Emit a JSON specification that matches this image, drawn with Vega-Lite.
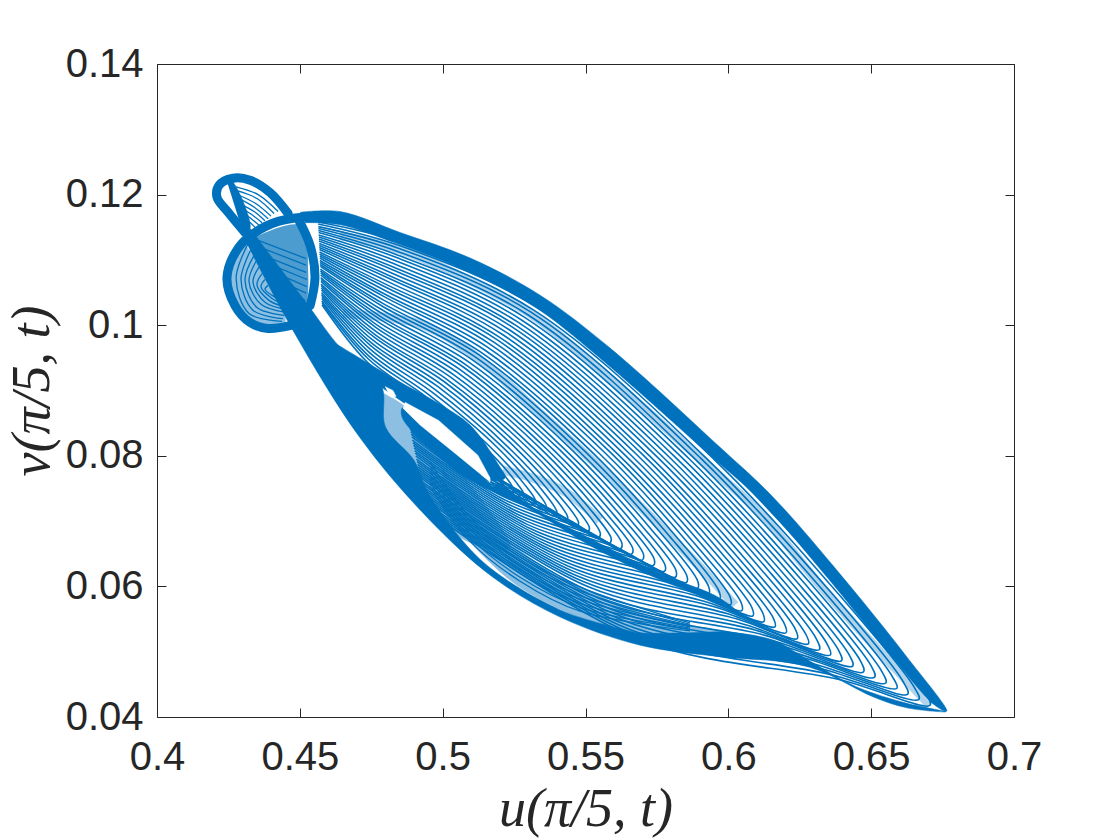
{"$schema":"https://vega.github.io/schema/vega-lite/v6.json","width":857,"height":653,"autosize":"none","padding":{"left":157,"top":64,"right":106,"bottom":123},"background":"white",
"config":{"view":{"stroke":null},"axis":{"grid":false,"domainColor":"#262626","tickColor":"#262626","labelColor":"#262626","titleColor":"#262626","labelFont":"Liberation Sans","labelFontSize":40,"titleFont":"Liberation Serif","titleFontStyle":"italic","titleFontWeight":"normal","titleFontSize":54,"domainWidth":1,"tickWidth":1}},
"datasets":{"fam":[
{"c":0,"x":0.4564,"y":0.1158},{"c":0,"x":0.4851,"y":0.1127},{"c":0,"x":0.5341,"y":0.1031},{"c":0,"x":0.5971,"y":0.0794},{"c":0,"x":0.6426,"y":0.0579},{"c":0,"x":0.6688,"y":0.0438},{"c":0,"x":0.6706,"y":0.0418},{"c":0,"x":0.6391,"y":0.0457},{"c":0,"x":0.5691,"y":0.0518},{"c":0,"x":0.4945,"y":0.0717},
{"c":1,"x":0.4564,"y":0.1155},{"c":1,"x":0.4848,"y":0.1122},{"c":1,"x":0.5330,"y":0.1027},{"c":1,"x":0.5949,"y":0.0795},{"c":1,"x":0.6394,"y":0.0584},{"c":1,"x":0.6650,"y":0.0446},{"c":1,"x":0.6667,"y":0.0427},{"c":1,"x":0.6358,"y":0.0465},{"c":1,"x":0.5673,"y":0.0526},{"c":1,"x":0.4943,"y":0.0721},
{"c":2,"x":0.4565,"y":0.1151},{"c":2,"x":0.4845,"y":0.1118},{"c":2,"x":0.5319,"y":0.1023},{"c":2,"x":0.5926,"y":0.0795},{"c":2,"x":0.6363,"y":0.0589},{"c":2,"x":0.6612,"y":0.0454},{"c":2,"x":0.6628,"y":0.0435},{"c":2,"x":0.6325,"y":0.0474},{"c":2,"x":0.5655,"y":0.0534},{"c":2,"x":0.4941,"y":0.0725},
{"c":3,"x":0.4565,"y":0.1148},{"c":3,"x":0.4842,"y":0.1113},{"c":3,"x":0.5309,"y":0.1020},{"c":3,"x":0.5904,"y":0.0796},{"c":3,"x":0.6331,"y":0.0594},{"c":3,"x":0.6574,"y":0.0462},{"c":3,"x":0.6590,"y":0.0444},{"c":3,"x":0.6293,"y":0.0482},{"c":3,"x":0.5637,"y":0.0542},{"c":3,"x":0.4939,"y":0.0729},
{"c":4,"x":0.4565,"y":0.1145},{"c":4,"x":0.4839,"y":0.1108},{"c":4,"x":0.5298,"y":0.1016},{"c":4,"x":0.5881,"y":0.0796},{"c":4,"x":0.6299,"y":0.0599},{"c":4,"x":0.6537,"y":0.0470},{"c":4,"x":0.6551,"y":0.0452},{"c":4,"x":0.6260,"y":0.0491},{"c":4,"x":0.5619,"y":0.0550},{"c":4,"x":0.4937,"y":0.0734},
{"c":5,"x":0.4566,"y":0.1142},{"c":5,"x":0.4836,"y":0.1104},{"c":5,"x":0.5287,"y":0.1012},{"c":5,"x":0.5859,"y":0.0797},{"c":5,"x":0.6268,"y":0.0604},{"c":5,"x":0.6499,"y":0.0479},{"c":5,"x":0.6512,"y":0.0461},{"c":5,"x":0.6227,"y":0.0499},{"c":5,"x":0.5601,"y":0.0558},{"c":5,"x":0.4935,"y":0.0738},
{"c":6,"x":0.4566,"y":0.1138},{"c":6,"x":0.4833,"y":0.1099},{"c":6,"x":0.5276,"y":0.1008},{"c":6,"x":0.5836,"y":0.0798},{"c":6,"x":0.6236,"y":0.0609},{"c":6,"x":0.6461,"y":0.0487},{"c":6,"x":0.6473,"y":0.0469},{"c":6,"x":0.6194,"y":0.0508},{"c":6,"x":0.5583,"y":0.0566},{"c":6,"x":0.4933,"y":0.0742},
{"c":7,"x":0.4567,"y":0.1135},{"c":7,"x":0.4830,"y":0.1094},{"c":7,"x":0.5266,"y":0.1004},{"c":7,"x":0.5814,"y":0.0798},{"c":7,"x":0.6204,"y":0.0614},{"c":7,"x":0.6423,"y":0.0495},{"c":7,"x":0.6435,"y":0.0478},{"c":7,"x":0.6162,"y":0.0516},{"c":7,"x":0.5565,"y":0.0574},{"c":7,"x":0.4931,"y":0.0746},
{"c":8,"x":0.4567,"y":0.1132},{"c":8,"x":0.4827,"y":0.1089},{"c":8,"x":0.5255,"y":0.1000},{"c":8,"x":0.5791,"y":0.0799},{"c":8,"x":0.6172,"y":0.0619},{"c":8,"x":0.6385,"y":0.0503},{"c":8,"x":0.6396,"y":0.0486},{"c":8,"x":0.6129,"y":0.0525},{"c":8,"x":0.5547,"y":0.0582},{"c":8,"x":0.4929,"y":0.0750},
{"c":9,"x":0.4567,"y":0.1129},{"c":9,"x":0.4824,"y":0.1085},{"c":9,"x":0.5244,"y":0.0997},{"c":9,"x":0.5769,"y":0.0799},{"c":9,"x":0.6141,"y":0.0624},{"c":9,"x":0.6347,"y":0.0511},{"c":9,"x":0.6357,"y":0.0495},{"c":9,"x":0.6096,"y":0.0533},{"c":9,"x":0.5529,"y":0.0590},{"c":9,"x":0.4927,"y":0.0754},
{"c":10,"x":0.4568,"y":0.1125},{"c":10,"x":0.4821,"y":0.1080},{"c":10,"x":0.5233,"y":0.0993},{"c":10,"x":0.5747,"y":0.0800},{"c":10,"x":0.6109,"y":0.0629},{"c":10,"x":0.6309,"y":0.0519},{"c":10,"x":0.6318,"y":0.0503},{"c":10,"x":0.6063,"y":0.0541},{"c":10,"x":0.5512,"y":0.0599},{"c":10,"x":0.4925,"y":0.0758},
{"c":11,"x":0.4568,"y":0.1122},{"c":11,"x":0.4818,"y":0.1075},{"c":11,"x":0.5223,"y":0.0989},{"c":11,"x":0.5724,"y":0.0800},{"c":11,"x":0.6077,"y":0.0633},{"c":11,"x":0.6271,"y":0.0527},{"c":11,"x":0.6280,"y":0.0512},{"c":11,"x":0.6031,"y":0.0550},{"c":11,"x":0.5494,"y":0.0607},{"c":11,"x":0.4923,"y":0.0762},
{"c":12,"x":0.4568,"y":0.1119},{"c":12,"x":0.4815,"y":0.1071},{"c":12,"x":0.5212,"y":0.0985},{"c":12,"x":0.5702,"y":0.0801},{"c":12,"x":0.6046,"y":0.0638},{"c":12,"x":0.6234,"y":0.0535},{"c":12,"x":0.6241,"y":0.0520},{"c":12,"x":0.5998,"y":0.0558},{"c":12,"x":0.5476,"y":0.0615},{"c":12,"x":0.4921,"y":0.0767},
{"c":13,"x":0.4569,"y":0.1116},{"c":13,"x":0.4812,"y":0.1066},{"c":13,"x":0.5201,"y":0.0981},{"c":13,"x":0.5679,"y":0.0802},{"c":13,"x":0.6014,"y":0.0643},{"c":13,"x":0.6196,"y":0.0543},{"c":13,"x":0.6202,"y":0.0529},{"c":13,"x":0.5965,"y":0.0567},{"c":13,"x":0.5458,"y":0.0623},{"c":13,"x":0.4919,"y":0.0771},
{"c":14,"x":0.4569,"y":0.1112},{"c":14,"x":0.4809,"y":0.1061},{"c":14,"x":0.5190,"y":0.0978},{"c":14,"x":0.5657,"y":0.0802},{"c":14,"x":0.5982,"y":0.0648},{"c":14,"x":0.6158,"y":0.0551},{"c":14,"x":0.6163,"y":0.0538},{"c":14,"x":0.5932,"y":0.0575},{"c":14,"x":0.5440,"y":0.0631},{"c":14,"x":0.4917,"y":0.0775},
{"c":15,"x":0.4569,"y":0.1109},{"c":15,"x":0.4806,"y":0.1057},{"c":15,"x":0.5179,"y":0.0974},{"c":15,"x":0.5634,"y":0.0803},{"c":15,"x":0.5951,"y":0.0653},{"c":15,"x":0.6120,"y":0.0560},{"c":15,"x":0.6124,"y":0.0546},{"c":15,"x":0.5899,"y":0.0584},{"c":15,"x":0.5422,"y":0.0639},{"c":15,"x":0.4915,"y":0.0779},
{"c":16,"x":0.4570,"y":0.1106},{"c":16,"x":0.4803,"y":0.1052},{"c":16,"x":0.5169,"y":0.0970},{"c":16,"x":0.5612,"y":0.0803},{"c":16,"x":0.5919,"y":0.0658},{"c":16,"x":0.6082,"y":0.0568},{"c":16,"x":0.6086,"y":0.0555},{"c":16,"x":0.5867,"y":0.0592},{"c":16,"x":0.5404,"y":0.0647},{"c":16,"x":0.4913,"y":0.0783},
{"c":17,"x":0.4570,"y":0.1103},{"c":17,"x":0.4800,"y":0.1047},{"c":17,"x":0.5158,"y":0.0966},{"c":17,"x":0.5590,"y":0.0804},{"c":17,"x":0.5887,"y":0.0663},{"c":17,"x":0.6044,"y":0.0576},{"c":17,"x":0.6047,"y":0.0563},{"c":17,"x":0.5834,"y":0.0600},{"c":17,"x":0.5386,"y":0.0655},{"c":17,"x":0.4912,"y":0.0787},
{"c":18,"x":0.4570,"y":0.1099},{"c":18,"x":0.4798,"y":0.1043},{"c":18,"x":0.5147,"y":0.0962},{"c":18,"x":0.5567,"y":0.0805},{"c":18,"x":0.5856,"y":0.0668},{"c":18,"x":0.6006,"y":0.0584},{"c":18,"x":0.6008,"y":0.0572},{"c":18,"x":0.5801,"y":0.0609},{"c":18,"x":0.5368,"y":0.0663},{"c":18,"x":0.4910,"y":0.0791},
{"c":19,"x":0.4571,"y":0.1096},{"c":19,"x":0.4795,"y":0.1038},{"c":19,"x":0.5136,"y":0.0958},{"c":19,"x":0.5545,"y":0.0805},{"c":19,"x":0.5824,"y":0.0673},{"c":19,"x":0.5968,"y":0.0592},{"c":19,"x":0.5969,"y":0.0580},{"c":19,"x":0.5768,"y":0.0617},{"c":19,"x":0.5350,"y":0.0671},{"c":19,"x":0.4908,"y":0.0795},
{"c":20,"x":0.4571,"y":0.1093},{"c":20,"x":0.4792,"y":0.1033},{"c":20,"x":0.5126,"y":0.0955},{"c":20,"x":0.5522,"y":0.0806},{"c":20,"x":0.5792,"y":0.0678},{"c":20,"x":0.5931,"y":0.0600},{"c":20,"x":0.5931,"y":0.0589},{"c":20,"x":0.5736,"y":0.0626},{"c":20,"x":0.5332,"y":0.0679},{"c":20,"x":0.4906,"y":0.0800},
{"c":21,"x":0.4572,"y":0.1090},{"c":21,"x":0.4789,"y":0.1029},{"c":21,"x":0.5115,"y":0.0951},{"c":21,"x":0.5500,"y":0.0806},{"c":21,"x":0.5761,"y":0.0683},{"c":21,"x":0.5893,"y":0.0608},{"c":21,"x":0.5892,"y":0.0597},{"c":21,"x":0.5703,"y":0.0634},{"c":21,"x":0.5314,"y":0.0687},{"c":21,"x":0.4904,"y":0.0804},
{"c":22,"x":0.4572,"y":0.1086},{"c":22,"x":0.4786,"y":0.1024},{"c":22,"x":0.5104,"y":0.0947},{"c":22,"x":0.5477,"y":0.0807},{"c":22,"x":0.5729,"y":0.0688},{"c":22,"x":0.5855,"y":0.0616},{"c":22,"x":0.5853,"y":0.0606},{"c":22,"x":0.5670,"y":0.0643},{"c":22,"x":0.5296,"y":0.0695},{"c":22,"x":0.4902,"y":0.0808},
{"c":23,"x":0.4572,"y":0.1083},{"c":23,"x":0.4783,"y":0.1019},{"c":23,"x":0.5093,"y":0.0943},{"c":23,"x":0.5455,"y":0.0808},{"c":23,"x":0.5697,"y":0.0693},{"c":23,"x":0.5817,"y":0.0624},{"c":23,"x":0.5814,"y":0.0614},{"c":23,"x":0.5637,"y":0.0651},{"c":23,"x":0.5278,"y":0.0703},{"c":23,"x":0.4900,"y":0.0812},
{"c":24,"x":0.4573,"y":0.1080},{"c":24,"x":0.4780,"y":0.1014},{"c":24,"x":0.5083,"y":0.0939},{"c":24,"x":0.5432,"y":0.0808},{"c":24,"x":0.5665,"y":0.0698},{"c":24,"x":0.5779,"y":0.0632},{"c":24,"x":0.5776,"y":0.0623},{"c":24,"x":0.5605,"y":0.0660},{"c":24,"x":0.5260,"y":0.0711},{"c":24,"x":0.4898,"y":0.0816},
{"c":25,"x":0.4573,"y":0.1077},{"c":25,"x":0.4777,"y":0.1010},{"c":25,"x":0.5072,"y":0.0936},{"c":25,"x":0.5410,"y":0.0809},{"c":25,"x":0.5634,"y":0.0703},{"c":25,"x":0.5741,"y":0.0641},{"c":25,"x":0.5737,"y":0.0632},{"c":25,"x":0.5572,"y":0.0668},{"c":25,"x":0.5242,"y":0.0719},{"c":25,"x":0.4896,"y":0.0820},
{"c":26,"x":0.4573,"y":0.1073},{"c":26,"x":0.4774,"y":0.1005},{"c":26,"x":0.5061,"y":0.0932},{"c":26,"x":0.5388,"y":0.0809},{"c":26,"x":0.5602,"y":0.0708},{"c":26,"x":0.5703,"y":0.0649},{"c":26,"x":0.5698,"y":0.0640},{"c":26,"x":0.5539,"y":0.0676},{"c":26,"x":0.5224,"y":0.0727},{"c":26,"x":0.4894,"y":0.0824},
{"c":27,"x":0.4574,"y":0.1070},{"c":27,"x":0.4771,"y":0.1000},{"c":27,"x":0.5050,"y":0.0928},{"c":27,"x":0.5365,"y":0.0810},{"c":27,"x":0.5570,"y":0.0713},{"c":27,"x":0.5666,"y":0.0657},{"c":27,"x":0.5659,"y":0.0649},{"c":27,"x":0.5506,"y":0.0685},{"c":27,"x":0.5206,"y":0.0735},{"c":27,"x":0.4892,"y":0.0829},
{"c":28,"x":0.4574,"y":0.1067},{"c":28,"x":0.4768,"y":0.0996},{"c":28,"x":0.5039,"y":0.0924},{"c":28,"x":0.5343,"y":0.0811},{"c":28,"x":0.5539,"y":0.0718},{"c":28,"x":0.5628,"y":0.0665},{"c":28,"x":0.5620,"y":0.0657},{"c":28,"x":0.5473,"y":0.0693},{"c":28,"x":0.5188,"y":0.0743},{"c":28,"x":0.4890,"y":0.0833},
{"c":29,"x":0.4574,"y":0.1063},{"c":29,"x":0.4765,"y":0.0991},{"c":29,"x":0.5029,"y":0.0920},{"c":29,"x":0.5320,"y":0.0811},{"c":29,"x":0.5507,"y":0.0723},{"c":29,"x":0.5590,"y":0.0673},{"c":29,"x":0.5582,"y":0.0666},{"c":29,"x":0.5441,"y":0.0702},{"c":29,"x":0.5170,"y":0.0751},{"c":29,"x":0.4888,"y":0.0837},
{"c":30,"x":0.4575,"y":0.1060},{"c":30,"x":0.4762,"y":0.0986},{"c":30,"x":0.5018,"y":0.0916},{"c":30,"x":0.5298,"y":0.0812},{"c":30,"x":0.5475,"y":0.0728},{"c":30,"x":0.5552,"y":0.0681},{"c":30,"x":0.5543,"y":0.0674},{"c":30,"x":0.5408,"y":0.0710},{"c":30,"x":0.5153,"y":0.0760},{"c":30,"x":0.4886,"y":0.0841},
{"c":31,"x":0.4575,"y":0.1057},{"c":31,"x":0.4759,"y":0.0982},{"c":31,"x":0.5007,"y":0.0913},{"c":31,"x":0.5275,"y":0.0812},{"c":31,"x":0.5444,"y":0.0732},{"c":31,"x":0.5514,"y":0.0689},{"c":31,"x":0.5504,"y":0.0683},{"c":31,"x":0.5375,"y":0.0719},{"c":31,"x":0.5135,"y":0.0768},{"c":31,"x":0.4884,"y":0.0845},
{"c":32,"x":0.4576,"y":0.1054},{"c":32,"x":0.4756,"y":0.0977},{"c":32,"x":0.4996,"y":0.0909},{"c":32,"x":0.5253,"y":0.0813},{"c":32,"x":0.5412,"y":0.0737},{"c":32,"x":0.5476,"y":0.0697},{"c":32,"x":0.5465,"y":0.0691},{"c":32,"x":0.5342,"y":0.0727},{"c":32,"x":0.5117,"y":0.0776},{"c":32,"x":0.4882,"y":0.0849},
{"c":33,"x":0.4576,"y":0.1050},{"c":33,"x":0.4753,"y":0.0972},{"c":33,"x":0.4986,"y":0.0905},{"c":33,"x":0.5230,"y":0.0813},{"c":33,"x":0.5380,"y":0.0742},{"c":33,"x":0.5438,"y":0.0705},{"c":33,"x":0.5427,"y":0.0700},{"c":33,"x":0.5310,"y":0.0736},{"c":33,"x":0.5099,"y":0.0784},{"c":33,"x":0.4880,"y":0.0853},
{"c":34,"x":0.4576,"y":0.1047},{"c":34,"x":0.4750,"y":0.0968},{"c":34,"x":0.4975,"y":0.0901},{"c":34,"x":0.5208,"y":0.0814},{"c":34,"x":0.5349,"y":0.0747},{"c":34,"x":0.5400,"y":0.0713},{"c":34,"x":0.5388,"y":0.0708},{"c":34,"x":0.5277,"y":0.0744},{"c":34,"x":0.5081,"y":0.0792},{"c":34,"x":0.4878,"y":0.0857},
{"c":35,"x":0.4577,"y":0.1044},{"c":35,"x":0.4747,"y":0.0963},{"c":35,"x":0.4964,"y":0.0897},{"c":35,"x":0.5186,"y":0.0815},{"c":35,"x":0.5317,"y":0.0752},{"c":35,"x":0.5363,"y":0.0722},{"c":35,"x":0.5349,"y":0.0717},{"c":35,"x":0.5244,"y":0.0752},{"c":35,"x":0.5063,"y":0.0800},{"c":35,"x":0.4876,"y":0.0862},
{"c":36,"x":0.4577,"y":0.1041},{"c":36,"x":0.4744,"y":0.0958},{"c":36,"x":0.4953,"y":0.0893},{"c":36,"x":0.5163,"y":0.0815},{"c":36,"x":0.5285,"y":0.0757},{"c":36,"x":0.5325,"y":0.0730},{"c":36,"x":0.5310,"y":0.0725},{"c":36,"x":0.5211,"y":0.0761},{"c":36,"x":0.5045,"y":0.0808},{"c":36,"x":0.4874,"y":0.0866},
{"c":37,"x":0.4577,"y":0.1037},{"c":37,"x":0.4741,"y":0.0953},{"c":37,"x":0.4943,"y":0.0890},{"c":37,"x":0.5141,"y":0.0816},{"c":37,"x":0.5253,"y":0.0762},{"c":37,"x":0.5287,"y":0.0738},{"c":37,"x":0.5271,"y":0.0734},{"c":37,"x":0.5179,"y":0.0769},{"c":37,"x":0.5027,"y":0.0816},{"c":37,"x":0.4872,"y":0.0870},
{"c":38,"x":0.4578,"y":0.1034},{"c":38,"x":0.4738,"y":0.0949},{"c":38,"x":0.4932,"y":0.0886},{"c":38,"x":0.5118,"y":0.0816},{"c":38,"x":0.5222,"y":0.0767},{"c":38,"x":0.5249,"y":0.0746},{"c":38,"x":0.5233,"y":0.0742},{"c":38,"x":0.5146,"y":0.0778},{"c":38,"x":0.5009,"y":0.0824},{"c":38,"x":0.4870,"y":0.0874},
{"c":39,"x":0.4578,"y":0.1031},{"c":39,"x":0.4735,"y":0.0944},{"c":39,"x":0.4921,"y":0.0882},{"c":39,"x":0.5096,"y":0.0817},{"c":39,"x":0.5190,"y":0.0772},{"c":39,"x":0.5211,"y":0.0754},{"c":39,"x":0.5194,"y":0.0751},{"c":39,"x":0.5113,"y":0.0786},{"c":39,"x":0.4991,"y":0.0832},{"c":39,"x":0.4868,"y":0.0878}
],
"arcs":[
{"c":"l1","x":0.4956,"y":0.0753},{"c":"l1","x":0.5096,"y":0.0669},{"c":"l1","x":0.5271,"y":0.0608},{"c":"l1","x":0.5481,"y":0.0562},{"c":"l1","x":0.5866,"y":0.0532},
{"c":"l2","x":0.4956,"y":0.0759},{"c":"l2","x":0.5096,"y":0.0675},{"c":"l2","x":0.5271,"y":0.0614},{"c":"l2","x":0.5481,"y":0.0568},{"c":"l2","x":0.5866,"y":0.0534},
{"c":"l3","x":0.4956,"y":0.0765},{"c":"l3","x":0.5096,"y":0.0681},{"c":"l3","x":0.5271,"y":0.062},{"c":"l3","x":0.5481,"y":0.0574},{"c":"l3","x":0.5866,"y":0.0536},
{"c":"l4","x":0.4956,"y":0.0771},{"c":"l4","x":0.5096,"y":0.0687},{"c":"l4","x":0.5271,"y":0.0626},{"c":"l4","x":0.5481,"y":0.058},{"c":"l4","x":0.5866,"y":0.0538},
{"c":"l5","x":0.4956,"y":0.0777},{"c":"l5","x":0.5096,"y":0.0693},{"c":"l5","x":0.5271,"y":0.0632},{"c":"l5","x":0.5481,"y":0.0586},{"c":"l5","x":0.5866,"y":0.054},
{"c":"l6","x":0.4956,"y":0.0784},{"c":"l6","x":0.5096,"y":0.07},{"c":"l6","x":0.5271,"y":0.0639},{"c":"l6","x":0.5481,"y":0.0593},{"c":"l6","x":0.5866,"y":0.0542},
{"c":"l7","x":0.4956,"y":0.079},{"c":"l7","x":0.5096,"y":0.0706},{"c":"l7","x":0.5271,"y":0.0645},{"c":"l7","x":0.5481,"y":0.0599},{"c":"l7","x":0.5866,"y":0.0544},
{"c":"a0","x":0.4319,"y":0.1125},{"c":"a0","x":0.4277,"y":0.1072},{"c":"a0","x":0.4322,"y":0.1018},{"c":"a0","x":0.4438,"y":0.1006},
{"c":"a1","x":0.4329,"y":0.1116},{"c":"a1","x":0.4294,"y":0.107},{"c":"a1","x":0.4336,"y":0.1023},{"c":"a1","x":0.4441,"y":0.101},
{"c":"a2","x":0.434,"y":0.1107},{"c":"a2","x":0.4308,"y":0.1069},{"c":"a2","x":0.435,"y":0.1027},{"c":"a2","x":0.4445,"y":0.1015},
{"c":"a3","x":0.4347,"y":0.1098},{"c":"a3","x":0.4322,"y":0.1067},{"c":"a3","x":0.4364,"y":0.1032},{"c":"a3","x":0.4448,"y":0.102},
{"c":"a4","x":0.4357,"y":0.1089},{"c":"a4","x":0.4336,"y":0.1066},{"c":"a4","x":0.4378,"y":0.1035},{"c":"a4","x":0.4452,"y":0.1024},
{"c":"a5","x":0.4368,"y":0.1079},{"c":"a5","x":0.435,"y":0.1062},{"c":"a5","x":0.4392,"y":0.1038},{"c":"a5","x":0.4455,"y":0.1027},
{"c":"a6","x":0.4378,"y":0.107},{"c":"a6","x":0.4364,"y":0.1059},{"c":"a6","x":0.4403,"y":0.1041},{"c":"a6","x":0.4459,"y":0.103},
{"c":"a7","x":0.4389,"y":0.1061},{"c":"a7","x":0.4378,"y":0.1055},{"c":"a7","x":0.4413,"y":0.1043},{"c":"a7","x":0.4462,"y":0.1033},
{"c":"h0","x":0.4354,"y":0.113},{"c":"h0","x":0.4522,"y":0.1102},
{"c":"h1","x":0.4368,"y":0.1118},{"c":"h1","x":0.4522,"y":0.1092},
{"c":"h2","x":0.4382,"y":0.1105},{"c":"h2","x":0.4522,"y":0.1081},
{"c":"h3","x":0.4396,"y":0.1093},{"c":"h3","x":0.4525,"y":0.107},
{"c":"h4","x":0.441,"y":0.1081},{"c":"h4","x":0.4525,"y":0.1059},
{"c":"h5","x":0.4424,"y":0.1069},{"c":"h5","x":0.4522,"y":0.1049},
{"c":"h6","x":0.4438,"y":0.1056},{"c":"h6","x":0.4518,"y":0.1038},
{"c":"h7","x":0.4452,"y":0.1044},{"c":"h7","x":0.4511,"y":0.1029},
{"c":"s0","x":0.4277,"y":0.1212},{"c":"s0","x":0.4354,"y":0.12},{"c":"s0","x":0.4424,"y":0.1174},
{"c":"s1","x":0.428,"y":0.1206},{"c":"s1","x":0.435,"y":0.1194},{"c":"s1","x":0.441,"y":0.1171},
{"c":"s2","x":0.4287,"y":0.1199},{"c":"s2","x":0.4347,"y":0.1186},{"c":"s2","x":0.4399,"y":0.1167},
{"c":"s3","x":0.4291,"y":0.1193},{"c":"s3","x":0.4343,"y":0.118},{"c":"s3","x":0.4389,"y":0.1163},
{"c":"s4","x":0.4294,"y":0.1185},{"c":"s4","x":0.434,"y":0.1174},{"c":"s4","x":0.4378,"y":0.116},
{"c":"s5","x":0.4298,"y":0.1179},{"c":"s5","x":0.4336,"y":0.1168},{"c":"s5","x":0.4368,"y":0.1157},
{"c":"s6","x":0.4305,"y":0.1171},{"c":"s6","x":0.4333,"y":0.1162},{"c":"s6","x":0.4357,"y":0.1153},
{"c":"s7","x":0.4308,"y":0.1163},{"c":"s7","x":0.4329,"y":0.1156},{"c":"s7","x":0.4347,"y":0.1148}
],
"dark":[
{"p":"top","x":0.4501,"y":0.1173},{"p":"top","x":0.4641,"y":0.1174},{"p":"top","x":0.4851,"y":0.1142},{"p":"top","x":0.5096,"y":0.1103},{"p":"top","x":0.5341,"y":0.1046},{"p":"top","x":0.5586,"y":0.0965},{"p":"top","x":0.5971,"y":0.0813},{"p":"top","x":0.6156,"y":0.0737},{"p":"top","x":0.6391,"y":0.0619},{"p":"top","x":0.6625,"y":0.0492},{"p":"top","x":0.6765,"y":0.0409},{"p":"top","x":0.6723,"y":0.0418},{"p":"top","x":0.6583,"y":0.0487},{"p":"top","x":0.6342,"y":0.0616},{"p":"top","x":0.6111,"y":0.0732},{"p":"top","x":0.5925,"y":0.0805},{"p":"top","x":0.5544,"y":0.0952},{"p":"top","x":0.5316,"y":0.103},{"p":"top","x":0.5078,"y":0.1084},{"p":"top","x":0.484,"y":0.1125},{"p":"top","x":0.4641,"y":0.1154},{"p":"top","x":0.4518,"y":0.1157},
{"p":"low","x":0.4301,"y":0.1137},{"p":"low","x":0.4476,"y":0.0992},{"p":"low","x":0.471,"y":0.0828},{"p":"low","x":0.4945,"y":0.0706},{"p":"low","x":0.5176,"y":0.0614},{"p":"low","x":0.5411,"y":0.0553},{"p":"low","x":0.5691,"y":0.051},{"p":"low","x":0.5981,"y":0.0492},{"p":"low","x":0.6216,"y":0.0483},{"p":"low","x":0.6331,"y":0.0469},{"p":"low","x":0.6506,"y":0.0431},{"p":"low","x":0.6625,"y":0.0414},{"p":"low","x":0.6762,"y":0.0408},{"p":"low","x":0.6625,"y":0.0421},{"p":"low","x":0.645,"y":0.0446},{"p":"low","x":0.6296,"y":0.0483},{"p":"low","x":0.624,"y":0.0498},{"p":"low","x":0.6156,"y":0.0518},{"p":"low","x":0.5998,"y":0.053},{"p":"low","x":0.5866,"y":0.0529},{"p":"low","x":0.5691,"y":0.0529},{"p":"low","x":0.5645,"y":0.0533},{"p":"low","x":0.5411,"y":0.0564},{"p":"low","x":0.5176,"y":0.0625},{"p":"low","x":0.506,"y":0.0675},{"p":"low","x":0.4945,"y":0.0747},{"p":"low","x":0.49,"y":0.0793},{"p":"low","x":0.48,"y":0.0844},{"p":"low","x":0.4785,"y":0.0908},{"p":"low","x":0.4641,"y":0.0966},{"p":"low","x":0.4525,"y":0.1033},{"p":"low","x":0.4326,"y":0.1148},
{"p":"ridge","x":0.52,"y":0.0758},{"p":"ridge","x":0.5316,"y":0.0721},{"p":"ridge","x":0.5526,"y":0.0671},{"p":"ridge","x":0.5761,"y":0.062},{"p":"ridge","x":0.5971,"y":0.0582},{"p":"ridge","x":0.6048,"y":0.0555},{"p":"ridge","x":0.5971,"y":0.0574},{"p":"ridge","x":0.5761,"y":0.061},{"p":"ridge","x":0.5526,"y":0.066},{"p":"ridge","x":0.5295,"y":0.0721},{"p":"ridge","x":0.506,"y":0.0773},{"p":"ridge","x":0.4858,"y":0.0859},{"p":"ridge","x":0.4861,"y":0.0874},{"p":"ridge","x":0.5176,"y":0.0753},
{"p":"slit","x":0.4606,"y":0.0977},{"p":"slit","x":0.4851,"y":0.0913},{"p":"slit","x":0.499,"y":0.0879},{"p":"slit","x":0.5096,"y":0.0847},{"p":"slit","x":0.519,"y":0.079},{"p":"slit","x":0.5218,"y":0.0766},{"p":"slit","x":0.5166,"y":0.0763},{"p":"slit","x":0.5043,"y":0.0828},{"p":"slit","x":0.4851,"y":0.0885},{"p":"slit","x":0.4658,"y":0.0946},
{"p":"diag","x":0.4245,"y":0.122},{"p":"diag","x":0.4263,"y":0.122},{"p":"diag","x":0.4326,"y":0.1148},{"p":"diag","x":0.4301,"y":0.1142}
],
"holes":[
{"p":"a","x":0.4868,"y":0.0882},{"p":"a","x":0.4986,"y":0.0854},{"p":"a","x":0.5123,"y":0.0801},{"p":"a","x":0.5166,"y":0.0766},{"p":"a","x":0.5166,"y":0.076},{"p":"a","x":0.5043,"y":0.0804},{"p":"a","x":0.4921,"y":0.0847},{"p":"a","x":0.4861,"y":0.0873},
{"p":"b","x":0.4798,"y":0.0906},{"p":"b","x":0.4826,"y":0.09},{"p":"b","x":0.4837,"y":0.0891},{"p":"b","x":0.4816,"y":0.089}
],
"ring":[
{"p":"big","x":0.4501,"y":0.1165},{"p":"big","x":0.4424,"y":0.1159},{"p":"big","x":0.4343,"y":0.1142},{"p":"big","x":0.4284,"y":0.1118},{"p":"big","x":0.4245,"y":0.1073},{"p":"big","x":0.4273,"y":0.103},{"p":"big","x":0.4326,"y":0.1004},{"p":"big","x":0.4389,"y":0.0995},{"p":"big","x":0.4473,"y":0.1},
{"p":"right","x":0.4494,"y":0.1163},{"p":"right","x":0.4536,"y":0.1122},{"p":"right","x":0.4553,"y":0.1073},{"p":"right","x":0.4536,"y":0.103},
{"p":"small","x":0.4459,"y":0.1171},{"p":"small","x":0.4396,"y":0.1203},{"p":"small","x":0.4326,"y":0.1222},{"p":"small","x":0.4266,"y":0.1225},{"p":"small","x":0.4217,"y":0.1214},{"p":"small","x":0.421,"y":0.1196},{"p":"small","x":0.4249,"y":0.1173},{"p":"small","x":0.4308,"y":0.1142}
],
"tint":[
{"p":"lobe","x":0.4308,"y":0.1125},{"p":"lobe","x":0.4255,"y":0.1072},{"p":"lobe","x":0.4316,"y":0.1012},{"p":"lobe","x":0.4448,"y":0.1002},{"p":"lobe","x":0.4396,"y":0.1067},
{"p":"rlobe","x":0.4343,"y":0.1135},{"p":"rlobe","x":0.4501,"y":0.1153},{"p":"rlobe","x":0.4529,"y":0.1084},{"p":"rlobe","x":0.4515,"y":0.103},{"p":"rlobe","x":0.4438,"y":0.1063},
{"p":"rlobe2","x":0.4343,"y":0.1135},{"p":"rlobe2","x":0.4501,"y":0.1153},{"p":"rlobe2","x":0.4529,"y":0.1084},{"p":"rlobe2","x":0.4515,"y":0.103},{"p":"rlobe2","x":0.4438,"y":0.1063},
{"p":"fan","x":0.4721,"y":0.091},{"p":"fan","x":0.4868,"y":0.0876},{"p":"fan","x":0.5095,"y":0.0757},{"p":"fan","x":0.5235,"y":0.0658},{"p":"fan","x":0.506,"y":0.0675},{"p":"fan","x":0.4945,"y":0.0747},{"p":"fan","x":0.4875,"y":0.0793},{"p":"fan","x":0.477,"y":0.0844},
{"p":"gap","x":0.5,"y":0.0715},{"p":"gap","x":0.5271,"y":0.0598},{"p":"gap","x":0.5691,"y":0.0525},{"p":"gap","x":0.6,"y":0.0528},{"p":"gap","x":0.5691,"y":0.056},{"p":"gap","x":0.5271,"y":0.0655},{"p":"gap","x":0.5,"y":0.078}
],
"smudge":[
{"p":"s1","x":0.4651,"y":0.1018},{"p":"s1","x":0.4911,"y":0.1003},{"p":"s1","x":0.5086,"y":0.0962},{"p":"s1","x":0.5341,"y":0.0865},{"p":"s1","x":0.5586,"y":0.0767},{"p":"s1","x":0.5911,"y":0.0625},{"p":"s1","x":0.6023,"y":0.0571},
{"p":"s2","x":0.5211,"y":0.0778},{"p":"s2","x":0.5316,"y":0.0766},{"p":"s2","x":0.5435,"y":0.0743},{"p":"s2","x":0.555,"y":0.0701},
{"p":"s3","x":0.4641,"y":0.1137},{"p":"s3","x":0.4851,"y":0.1115},{"p":"s3","x":0.5078,"y":0.1072},{"p":"s3","x":0.5316,"y":0.1015},{"p":"s3","x":0.5544,"y":0.0934},{"p":"s3","x":0.5925,"y":0.0786},{"p":"s3","x":0.6111,"y":0.0712},{"p":"s3","x":0.6342,"y":0.0591},{"p":"s3","x":0.6583,"y":0.0475},{"p":"s3","x":0.6706,"y":0.0418}
]},
"layer":[
{"data":{"name":"fam"},"mark":{"type":"line","order":false,"interpolate":"catmull-rom","color":"#0072BD","strokeWidth":1.6},"encoding":{"detail":{"field":"c"},"x":{"field":"x","type":"quantitative","scale":{"domain":[0.4,0.7],"nice":false,"zero":false},"axis":{"values":[0.4,0.45,0.5,0.55,0.6,0.65,0.7],"format":".2~f","tickSize":-9,"orient":"bottom","labelPadding":29,"labelFlush":false,"title":"u(π/5, t)","titlePadding":5}},"y":{"field":"y","type":"quantitative","scale":{"domain":[0.04,0.14],"nice":false,"zero":false},"axis":{"values":[0.04,0.06,0.08,0.1,0.12,0.14],"format":".2~f","tickSize":-9,"orient":"left","labelPadding":23,"title":"v(π/5, t)","titlePadding":6}}}},
{"data":{"name":"arcs"},"mark":{"type":"line","order":false,"interpolate":"catmull-rom","color":"#0072BD","strokeWidth":1.3},"encoding":{"detail":{"field":"c"},"x":{"field":"x","type":"quantitative","axis":null},"y":{"field":"y","type":"quantitative","axis":null}}},
{"data":{"name":"tint"},"mark":{"type":"line","order":false,"interpolate":"catmull-rom","fill":"#0072BD","fillOpacity":0.45,"strokeWidth":0},"encoding":{"detail":{"field":"p"},"x":{"field":"x","type":"quantitative","axis":null},"y":{"field":"y","type":"quantitative","axis":null}}},
{"data":{"name":"smudge"},"mark":{"type":"line","order":false,"interpolate":"catmull-rom","color":"#0072BD","strokeWidth":9,"opacity":0.3},"encoding":{"detail":{"field":"p"},"x":{"field":"x","type":"quantitative","axis":null},"y":{"field":"y","type":"quantitative","axis":null}}},
{"data":{"name":"dark"},"mark":{"type":"line","order":false,"interpolate":"catmull-rom","color":"#0072BD","fill":"#0072BD","strokeWidth":0.5},"encoding":{"detail":{"field":"p"},"x":{"field":"x","type":"quantitative","axis":null},"y":{"field":"y","type":"quantitative","axis":null}}},
{"data":{"name":"ring"},"mark":{"type":"line","order":false,"interpolate":"catmull-rom","color":"#0072BD","strokeWidth":9,"strokeCap":"round"},"encoding":{"detail":{"field":"p"},"x":{"field":"x","type":"quantitative","axis":null},"y":{"field":"y","type":"quantitative","axis":null}}},
{"data":{"name":"holes"},"mark":{"type":"line","order":false,"color":"white","fill":"white","strokeWidth":0.5},"encoding":{"detail":{"field":"p"},"x":{"field":"x","type":"quantitative","axis":{"values":[0.4,0.45,0.5,0.55,0.6,0.65,0.7],"tickSize":-9,"orient":"top","labels":false,"title":null}},"y":{"field":"y","type":"quantitative","axis":{"values":[0.04,0.06,0.08,0.1,0.12,0.14],"tickSize":-9,"orient":"right","labels":false,"title":null}}}}
],
"resolve":{"axis":{"x":"independent","y":"independent"}}}
